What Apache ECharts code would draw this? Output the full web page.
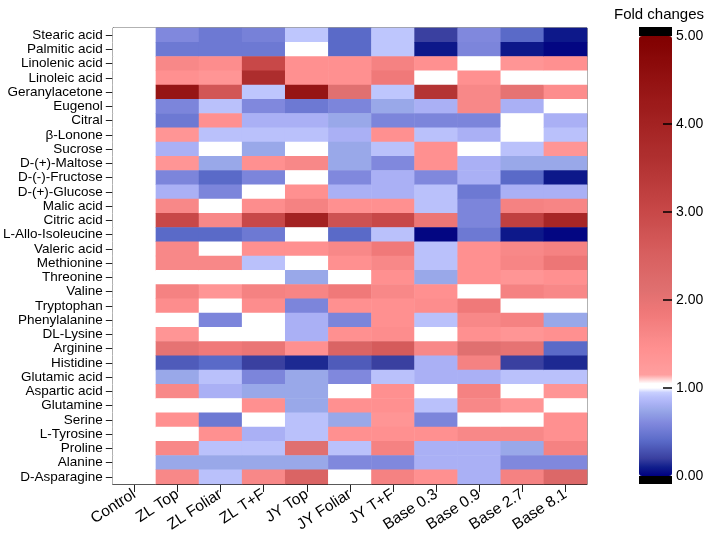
<!DOCTYPE html>
<html><head><meta charset="utf-8">
<script src="https://cdn.jsdelivr.net/npm/echarts@6/dist/echarts.min.js"></script>
<style>html,body{margin:0;padding:0;background:#fff}#c{width:708px;height:545px}</style>
</head><body><div id="c"></div>
<script>
const columns = ['Control','ZL Top','ZL Foliar','ZL T+F','JY Top','JY Foliar','JY T+F','Base 0.3','Base 0.9','Base 2.7','Base 8.1'];
const metabolites = ['Stearic acid','Palmitic acid','Linolenic acid','Linoleic acid','Geranylacetone','Eugenol','Citral','β-Lonone','Sucrose','D-(+)-Maltose','D-(-)-Fructose','D-(+)-Glucose','Malic acid','Citric acid','L-Allo-Isoleucine','Valeric acid','Methionine','Threonine','Valine','Tryptophan','Phenylalanine','DL-Lysine','Arginine','Histidine','Glutamic acid','Aspartic acid','Glutamine','Serine','L-Tyrosine','Proline','Alanine','D-Asparagine'];

const control  = [1,1,1,1,1,1,1,1,1,1,1,1,1,1,1,1,1,1,1,1,1,1,1,1,1,1,1,1,1,1,1,1];
const zlTop    = [0.6,0.5,1.6,1.45,4.4,0.58,0.5,1.35,0.82,1.35,0.58,0.82,1.6,3.0,0.4,1.6,1.6,1.0,1.7,1.5,1.0,1.35,2.0,0.33,0.75,1.6,1.0,1.45,1.0,1.6,0.75,1.6];
const zlFoliar = [0.5,0.5,1.5,1.35,2.7,0.9,1.45,0.9,1.0,0.75,0.4,0.58,1.0,1.6,0.4,1.0,1.6,1.0,1.35,1.0,0.58,1.0,1.85,0.4,0.9,0.82,1.0,0.5,1.45,0.9,0.75,0.9];
const zlTF     = [0.55,0.5,3.0,3.7,0.92,0.6,0.82,0.9,0.75,1.45,0.58,1.0,1.5,3.0,0.5,1.45,0.9,1.0,1.7,1.5,1.0,1.0,1.95,0.2,0.58,0.75,1.45,1.0,0.82,0.9,0.75,1.6];
const jyTop    = [0.92,1.0,1.45,1.45,4.4,0.5,0.82,0.9,1.0,1.6,1.0,1.45,1.7,4.0,1.0,1.45,1.0,0.75,1.65,0.58,0.82,0.82,1.45,0.13,0.75,0.75,0.75,0.9,0.9,2.1,0.75,2.4];
const jyFoliar = [0.4,0.4,1.45,1.45,2.1,0.58,0.75,0.82,0.75,0.75,0.6,0.82,1.45,2.8,0.4,1.6,1.45,1.0,1.85,1.45,0.58,1.45,2.4,0.33,0.6,1.0,1.45,0.75,1.45,0.9,0.6,1.0];
const jyTF     = [0.92,0.92,1.7,1.85,0.92,0.75,0.58,1.45,0.9,0.6,0.82,0.82,1.45,3.0,0.9,1.85,1.6,1.45,1.6,1.45,1.45,1.5,2.6,0.2,0.9,1.45,1.45,1.35,1.45,1.7,0.6,1.7];
const base03   = [0.2,0.08,1.45,1.0,3.5,0.82,0.58,0.9,1.45,1.45,0.6,0.9,0.9,1.9,0.02,0.9,0.9,0.75,1.45,1.5,0.9,1.0,1.6,0.82,0.82,1.0,0.9,0.58,1.45,0.82,0.82,1.45];
const base09   = [0.6,0.58,1.0,1.45,1.6,1.6,0.58,0.82,1.0,0.82,0.82,0.5,0.58,0.58,0.5,1.45,1.45,1.45,1.0,1.85,1.6,1.45,2.1,1.7,0.82,1.7,1.6,1.0,1.6,0.82,0.82,0.82];
const base27   = [0.4,0.08,1.35,1.0,2.0,0.82,1.0,1.0,0.9,0.75,0.4,0.82,1.7,3.2,0.08,1.6,1.65,1.35,1.7,1.0,1.7,1.35,2.0,0.2,0.9,1.0,1.35,1.0,1.6,0.75,0.6,1.7];
const base81   = [0.08,0.02,1.45,1.0,1.5,1.0,0.82,0.9,1.35,0.75,0.08,0.82,1.65,3.9,0.02,1.7,1.9,1.45,1.6,1.0,0.75,1.45,0.4,0.13,0.9,1.35,1.0,1.45,1.45,1.7,0.6,2.3];
const colorbarTicks = [1,2,3,4];

const seriesCols = [control,zlTop,zlFoliar,zlTF,jyTop,jyFoliar,jyTF,base03,base09,base27,base81];
const data = [];
seriesCols.forEach((col,ci)=>col.forEach((v,ri)=>data.push([ci,ri,v])));

// colour ramp (style)
const anchors = [
  [0,'#000080'],[0.1,'#101e8c'],[0.2,'#3a40a0'],[0.4,'#5a6ac8'],[0.6,'#8088dd'],[0.75,'#98a8e8'],[0.82,'#aab0f5'],[0.95,'#c4ccff'],
  [1.0,'#ffffff'],[1.08,'#ffffff'],[1.12,'#ffa0a0'],[1.45,'#ff9090'],[1.6,'#f88888'],[1.85,'#f07878'],[2.1,'#e07070'],[2.5,'#d86060'],
  [3.0,'#c84848'],[3.6,'#b03030'],[4.3,'#9a1818'],[5.0,'#800000']];
function hex(c){return [parseInt(c.slice(1,3),16),parseInt(c.slice(3,5),16),parseInt(c.slice(5,7),16)];}
function colorAt(v){
  for(let i=0;i<anchors.length-1;i++){
    const [a,ca]=anchors[i],[b,cb]=anchors[i+1];
    if(v>=a-1e-9&&v<=b+1e-9){
      const t=(v-a)/(b-a),A=hex(ca),B=hex(cb);
      return 'rgb('+A.map((x,k)=>Math.round(x+(B[k]-x)*t)).join(',')+')';
    }
  }
  return anchors[anchors.length-1][1];
}
const ramp=[];for(let i=0;i<=250;i++)ramp.push(colorAt(i*0.02));

const FONT='Liberation Sans, Arial, sans-serif';
const chart = echarts.init(document.getElementById('c'),null,{renderer:'canvas'});
chart.setOption({
  animation:false,
  backgroundColor:'#fff',
  title:{text:'Fold changes',left:609,top:2,textStyle:{fontFamily:FONT,fontSize:15,fontWeight:'normal',color:'#000'}},
  grid:[
    {left:111,right:121,top:28,bottom:61,show:true,borderColor:'#333',borderWidth:1,backgroundColor:'transparent'},
    {left:639,width:33,top:36,height:440,show:false}
  ],
  xAxis:[
    {type:'category',data:columns,gridIndex:0,
     axisLine:{show:true,lineStyle:{color:'#222'}},
     axisTick:{show:true,alignWithLabel:true,length:8,lineStyle:{color:'#222'}},
     axisLabel:{interval:0,rotate:33,fontFamily:FONT,fontSize:15.5,color:'#000',margin:9},splitLine:{show:false}},
    {type:'value',gridIndex:1,show:false,min:0,max:1}
  ],
  yAxis:[
    {type:'category',data:metabolites,inverse:true,gridIndex:0,
     axisLine:{show:true,lineStyle:{color:'#222'}},
     axisTick:{show:true,alignWithLabel:true,length:7,lineStyle:{color:'#222'}},
     axisLabel:{interval:0,fontFamily:FONT,fontSize:13.5,color:'#000',margin:10},splitLine:{show:false}},
    {type:'value',gridIndex:1,position:'right',min:0,max:5,interval:1,
     axisLine:{show:false,onZero:false},
     axisTick:{show:false},
     axisLabel:{fontFamily:FONT,fontSize:14,color:'#000',margin:4,formatter:v=>v.toFixed(2)},
     splitLine:{show:false}}
  ],
  visualMap:{type:'continuous',min:0,max:5,calculable:false,seriesIndex:0,z:2,
    orient:'vertical',left:639,top:36,itemWidth:33,itemHeight:440,padding:0,text:null,showLabel:false,
    inRange:{color:ramp}},
  graphic:[
    {type:'rect',left:639,top:27,shape:{width:33,height:9},style:{fill:'#000'},z:10},
    {type:'rect',left:639,top:476,shape:{width:33,height:8},style:{fill:'#000'},z:10}
  ],
  series:[
    {type:'heatmap',xAxisIndex:0,yAxisIndex:0,data:data,itemStyle:{borderWidth:0},emphasis:{disabled:true}},
    {type:'custom',xAxisIndex:1,yAxisIndex:1,zlevel:3,silent:true,
     data:colorbarTicks.map(v=>[1,v]),
     renderItem:(params,api)=>{
       const p=api.coord([api.value(0),api.value(1)]);
       return {type:'line',shape:{x1:p[0]-9,y1:p[1],x2:p[0],y2:p[1]},style:{stroke:'#000',lineWidth:1.5}};
     }}
  ]
});
</script></body></html>
